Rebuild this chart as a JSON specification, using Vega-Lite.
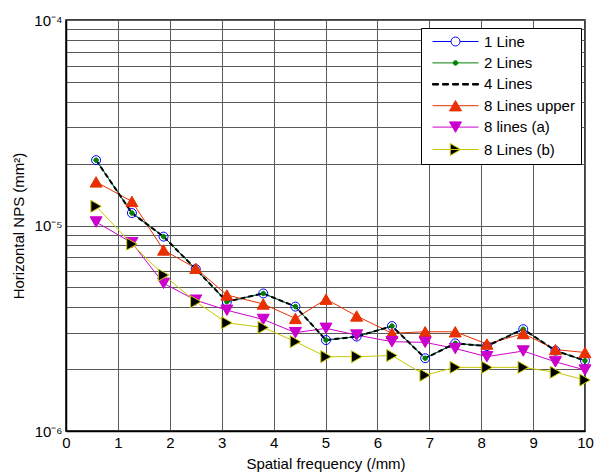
{
  "$schema": "https://vega.github.io/schema/vega-lite/v6.json",
  "width": 519,
  "height": 411,
  "autosize": "none",
  "padding": {"left": 66, "top": 20, "right": 10, "bottom": 43},
  "background": "white",
  "config": {
    "view": {"stroke": "#000", "strokeWidth": 1.5},
    "font": "Liberation Sans"
  },
  "data": {"values": [
    {"s": "1 Line", "x": 0.58, "y": 2.08e-5}, {"s": "1 Line", "x": 1.27, "y": 1.15e-5}, {"s": "1 Line", "x": 1.88, "y": 8.83e-6}, {"s": "1 Line", "x": 2.5, "y": 6.14e-6},
    {"s": "1 Line", "x": 3.1, "y": 4.26e-6}, {"s": "1 Line", "x": 3.8, "y": 4.67e-6}, {"s": "1 Line", "x": 4.42, "y": 4.03e-6}, {"s": "1 Line", "x": 5.01, "y": 2.77e-6},
    {"s": "1 Line", "x": 5.6, "y": 2.88e-6}, {"s": "1 Line", "x": 6.28, "y": 3.24e-6}, {"s": "1 Line", "x": 6.92, "y": 2.26e-6}, {"s": "1 Line", "x": 7.5, "y": 2.67e-6},
    {"s": "1 Line", "x": 8.11, "y": 2.59e-6}, {"s": "1 Line", "x": 8.81, "y": 3.13e-6}, {"s": "1 Line", "x": 9.43, "y": 2.46e-6}, {"s": "1 Line", "x": 10, "y": 2.2e-6},
    {"s": "2 Lines", "x": 0.58, "y": 2.08e-5}, {"s": "2 Lines", "x": 1.27, "y": 1.15e-5}, {"s": "2 Lines", "x": 1.88, "y": 8.83e-6}, {"s": "2 Lines", "x": 2.5, "y": 6.14e-6},
    {"s": "2 Lines", "x": 3.1, "y": 4.26e-6}, {"s": "2 Lines", "x": 3.8, "y": 4.67e-6}, {"s": "2 Lines", "x": 4.42, "y": 4.03e-6}, {"s": "2 Lines", "x": 5.01, "y": 2.77e-6},
    {"s": "2 Lines", "x": 5.6, "y": 2.88e-6}, {"s": "2 Lines", "x": 6.28, "y": 3.24e-6}, {"s": "2 Lines", "x": 6.92, "y": 2.26e-6}, {"s": "2 Lines", "x": 7.5, "y": 2.67e-6},
    {"s": "2 Lines", "x": 8.11, "y": 2.59e-6}, {"s": "2 Lines", "x": 8.81, "y": 3.13e-6}, {"s": "2 Lines", "x": 9.43, "y": 2.46e-6}, {"s": "2 Lines", "x": 10, "y": 2.2e-6},
    {"s": "4 Lines", "x": 0.58, "y": 2.08e-5}, {"s": "4 Lines", "x": 1.27, "y": 1.15e-5}, {"s": "4 Lines", "x": 1.88, "y": 8.83e-6}, {"s": "4 Lines", "x": 2.5, "y": 6.14e-6},
    {"s": "4 Lines", "x": 3.1, "y": 4.26e-6}, {"s": "4 Lines", "x": 3.8, "y": 4.67e-6}, {"s": "4 Lines", "x": 4.42, "y": 4.03e-6}, {"s": "4 Lines", "x": 5.01, "y": 2.77e-6},
    {"s": "4 Lines", "x": 5.6, "y": 2.88e-6}, {"s": "4 Lines", "x": 6.28, "y": 3.24e-6}, {"s": "4 Lines", "x": 6.92, "y": 2.26e-6}, {"s": "4 Lines", "x": 7.5, "y": 2.67e-6},
    {"s": "4 Lines", "x": 8.11, "y": 2.59e-6}, {"s": "4 Lines", "x": 8.81, "y": 3.13e-6}, {"s": "4 Lines", "x": 9.43, "y": 2.46e-6}, {"s": "4 Lines", "x": 10, "y": 2.2e-6},
    {"s": "8 Lines upper", "x": 0.58, "y": 1.63e-5}, {"s": "8 Lines upper", "x": 1.27, "y": 1.31e-5}, {"s": "8 Lines upper", "x": 1.88, "y": 7.6e-6}, {"s": "8 Lines upper", "x": 2.5, "y": 6.19e-6},
    {"s": "8 Lines upper", "x": 3.1, "y": 4.59e-6}, {"s": "8 Lines upper", "x": 3.8, "y": 4.15e-6}, {"s": "8 Lines upper", "x": 4.42, "y": 3.53e-6}, {"s": "8 Lines upper", "x": 5.01, "y": 4.38e-6},
    {"s": "8 Lines upper", "x": 5.6, "y": 3.63e-6}, {"s": "8 Lines upper", "x": 6.28, "y": 2.99e-6}, {"s": "8 Lines upper", "x": 6.92, "y": 3.04e-6}, {"s": "8 Lines upper", "x": 7.5, "y": 3.04e-6},
    {"s": "8 Lines upper", "x": 8.11, "y": 2.65e-6}, {"s": "8 Lines upper", "x": 8.81, "y": 2.98e-6}, {"s": "8 Lines upper", "x": 9.43, "y": 2.49e-6}, {"s": "8 Lines upper", "x": 10, "y": 2.41e-6},
    {"s": "8 lines (a)", "x": 0.58, "y": 1.04e-5}, {"s": "8 lines (a)", "x": 1.27, "y": 8.24e-6}, {"s": "8 lines (a)", "x": 1.88, "y": 5.23e-6}, {"s": "8 lines (a)", "x": 2.5, "y": 4.33e-6},
    {"s": "8 lines (a)", "x": 3.1, "y": 3.87e-6}, {"s": "8 lines (a)", "x": 3.8, "y": 3.49e-6}, {"s": "8 lines (a)", "x": 4.42, "y": 3.01e-6}, {"s": "8 lines (a)", "x": 5.01, "y": 3.16e-6},
    {"s": "8 lines (a)", "x": 5.6, "y": 2.93e-6}, {"s": "8 lines (a)", "x": 6.28, "y": 2.72e-6}, {"s": "8 lines (a)", "x": 6.92, "y": 2.7e-6}, {"s": "8 lines (a)", "x": 7.5, "y": 2.52e-6},
    {"s": "8 lines (a)", "x": 8.11, "y": 2.3e-6}, {"s": "8 lines (a)", "x": 8.81, "y": 2.45e-6}, {"s": "8 lines (a)", "x": 9.43, "y": 2.17e-6}, {"s": "8 lines (a)", "x": 10, "y": 1.98e-6},
    {"s": "8 Lines (b)", "x": 0.58, "y": 1.24e-5}, {"s": "8 Lines (b)", "x": 1.27, "y": 8.12e-6}, {"s": "8 Lines (b)", "x": 1.88, "y": 5.74e-6}, {"s": "8 Lines (b)", "x": 2.5, "y": 4.26e-6},
    {"s": "8 Lines (b)", "x": 3.1, "y": 3.36e-6}, {"s": "8 Lines (b)", "x": 3.8, "y": 3.19e-6}, {"s": "8 Lines (b)", "x": 4.42, "y": 2.72e-6}, {"s": "8 Lines (b)", "x": 5.01, "y": 2.3e-6},
    {"s": "8 Lines (b)", "x": 5.6, "y": 2.3e-6}, {"s": "8 Lines (b)", "x": 6.28, "y": 2.33e-6}, {"s": "8 Lines (b)", "x": 6.92, "y": 1.87e-6}, {"s": "8 Lines (b)", "x": 7.5, "y": 2.04e-6},
    {"s": "8 Lines (b)", "x": 8.11, "y": 2.04e-6}, {"s": "8 Lines (b)", "x": 8.81, "y": 2.04e-6}, {"s": "8 Lines (b)", "x": 9.43, "y": 1.93e-6}, {"s": "8 Lines (b)", "x": 10, "y": 1.77e-6}
  ]},
  "layer": [
    {
      "transform": [{"filter": "datum.s != '4 Lines'"}],
      "mark": {"type": "line", "strokeWidth": 1},
      "encoding": {
        "x": {"field": "x", "type": "quantitative", "scale": {"domain": [0, 10], "nice": false, "zero": false},
          "axis": {"title": "Spatial frequency (/mm)", "values": [0,1,2,3,4,5,6,7,8,9,10], "format": "d",
            "grid": true, "gridColor": "#5a5a5a", "gridWidth": 1, "domainColor": "#000", "domainWidth": 1.5,
            "ticks": false, "labelPadding": 4, "labelFlush": false, "labelFontSize": 15, "labelFont": "Liberation Sans",
            "labelColor": "#000", "titleFontSize": 15, "titleFont": "Liberation Sans", "titleFontWeight": "normal",
            "titleColor": "#000", "titlePadding": 6}},
        "y": {"field": "y", "type": "quantitative", "scale": {"type": "log", "domain": [0.000001, 0.0001], "nice": false},
          "axis": {"title": "Horizontal NPS (mm²)",
            "values": [0.000001,0.000002,0.000003,0.000004,0.000005,0.000006,0.000007,0.000008,0.000009,0.00001,0.00002,0.00003,0.00004,0.00005,0.00006,0.00007,0.00008,0.00009,0.0001],
            "labelExpr": "datum.value == 0.0001 ? '10⁻⁴' : datum.value == 0.00001 ? '10⁻⁵' : datum.value == 0.000001 ? '10⁻⁶' : ''",
            "labelOverlap": false, "labelFlush": false,
            "grid": true, "gridColor": "#5a5a5a", "gridWidth": 1, "domainColor": "#000", "domainWidth": 1.5,
            "ticks": false, "labelPadding": 4, "labelFontSize": 15, "labelFont": "Liberation Sans",
            "labelColor": "#000", "titleFontSize": 15, "titleFont": "Liberation Sans", "titleFontWeight": "normal",
            "titleColor": "#000", "titlePadding": 7}},
        "color": {"field": "s", "type": "nominal",
          "scale": {"domain": ["1 Line", "2 Lines", "4 Lines", "8 Lines upper", "8 lines (a)", "8 Lines (b)"],
            "range": ["#0000ff", "#008000", "#000000", "#e83000", "#cc00cc", "#c8c800"]},
          "legend": null}
      }
    },
    {
      "transform": [{"filter": "datum.s == '4 Lines'"}],
      "mark": {"type": "line", "strokeWidth": 2, "strokeDash": [5, 3], "color": "#000"},
      "encoding": {
        "x": {"field": "x", "type": "quantitative"},
        "y": {"field": "y", "type": "quantitative"}
      }
    },
    {
      "transform": [{"filter": "datum.s != '4 Lines'"}],
      "mark": {"type": "point", "filled": true, "size": 100, "strokeWidth": 1, "opacity": 1},
      "encoding": {
        "x": {"field": "x", "type": "quantitative"},
        "y": {"field": "y", "type": "quantitative"},
        "shape": {"field": "s", "type": "nominal",
          "scale": {"domain": ["1 Line", "2 Lines", "8 Lines upper", "8 lines (a)", "8 Lines (b)"],
            "range": ["M0.9,0A0.9,0.9 0 1,1 -0.9,0A0.9,0.9 0 1,1 0.9,0Z",
              "M0.45,0A0.45,0.45 0 1,1 -0.45,0A0.45,0.45 0 1,1 0.45,0Z",
              "M0,-1.04L1.2,1.04L-1.2,1.04Z",
              "M0,1.04L1.2,-1.04L-1.2,-1.04Z",
              "M1.04,0L-1.04,1.2L-1.04,-1.2Z"]},
          "legend": null},
        "fill": {"field": "s", "type": "nominal",
          "scale": {"domain": ["1 Line", "2 Lines", "8 Lines upper", "8 lines (a)", "8 Lines (b)"],
            "range": ["transparent", "#008000", "#e83000", "#cc00cc", "#000000"]},
          "legend": null},
        "stroke": {"field": "s", "type": "nominal",
          "scale": {"domain": ["1 Line", "2 Lines", "8 Lines upper", "8 lines (a)", "8 Lines (b)"],
            "range": ["#0000ff", "#008000", "#e83000", "#cc00cc", "#c8c800"]},
          "legend": null}
      }
    },
    {
      "mark": {"type": "point", "filled": true, "size": 100, "strokeWidth": 1, "opacity": 0},
      "encoding": {
        "x": {"field": "x", "type": "quantitative"},
        "y": {"field": "y", "type": "quantitative"},
        "shape": {"field": "s", "type": "nominal",
          "scale": {"domain": ["1 Line", "2 Lines", "4 Lines", "8 Lines upper", "8 lines (a)", "8 Lines (b)"],
            "range": ["M-4.6,0H-0.9M0.9,0H4.6M0.9,0A0.9,0.9 0 1,1 -0.9,0A0.9,0.9 0 1,1 0.9,0",
              "M-4.6,0H4.6M0.45,0A0.45,0.45 0 1,1 -0.45,0A0.45,0.45 0 1,1 0.45,0Z",
              "M-4.6,-0.15H-3.4V0.15H-4.6ZM-2.6,-0.15H-1.4V0.15H-2.6ZM-0.6,-0.15H0.6V0.15H-0.6ZM1.4,-0.15H2.6V0.15H1.4ZM3.4,-0.15H4.6V0.15H3.4Z",
              "M-4.6,0H4.6M0,-1.04L1.2,1.04L-1.2,1.04Z",
              "M-4.6,0H4.6M0,1.04L1.2,-1.04L-1.2,-1.04Z",
              "M-4.6,0H4.6M1.04,0L-1.04,1.2L-1.04,-1.2Z"]},
          "legend": {"title": null, "orient": "none", "legendX": 355, "legendY": 8, "padding": 6,
            "strokeColor": "#000", "fillColor": "#fff", "cornerRadius": 0, "symbolOffset": 21, "labelOffset": 21,
            "rowPadding": 5.4, "symbolOpacity": 1, "symbolStrokeWidth": 1, "symbolSize": 100,
            "labelFont": "Liberation Sans", "labelFontSize": 15, "labelColor": "#000", "labelLimit": 300}},
        "fill": {"field": "s", "type": "nominal",
          "scale": {"domain": ["1 Line", "2 Lines", "4 Lines", "8 Lines upper", "8 lines (a)", "8 Lines (b)"],
            "range": ["transparent", "#008000", "#000000", "#e83000", "#cc00cc", "#000000"]},
          "legend": {"title": null, "orient": "none", "legendX": 355, "legendY": 8, "padding": 6,
            "strokeColor": "#000", "fillColor": "#fff", "cornerRadius": 0, "symbolOffset": 21, "labelOffset": 21,
            "rowPadding": 5.4, "symbolOpacity": 1, "symbolStrokeWidth": 1, "symbolSize": 100,
            "labelFont": "Liberation Sans", "labelFontSize": 15, "labelColor": "#000", "labelLimit": 300}},
        "stroke": {"field": "s", "type": "nominal",
          "scale": {"domain": ["1 Line", "2 Lines", "4 Lines", "8 Lines upper", "8 lines (a)", "8 Lines (b)"],
            "range": ["#0000ff", "#008000", "#000000", "#e83000", "#cc00cc", "#c8c800"]},
          "legend": {"title": null, "orient": "none", "legendX": 355, "legendY": 8, "padding": 6,
            "strokeColor": "#000", "fillColor": "#fff", "cornerRadius": 0, "symbolOffset": 21, "labelOffset": 21,
            "rowPadding": 5.4, "symbolOpacity": 1, "symbolStrokeWidth": 1, "symbolSize": 100,
            "labelFont": "Liberation Sans", "labelFontSize": 15, "labelColor": "#000", "labelLimit": 300}}
      }
    }
  ],
  "resolve": {
    "scale": {"shape": "independent", "fill": "independent", "stroke": "independent"},
    "legend": {"shape": "independent", "fill": "independent", "stroke": "independent"}
  }
}
